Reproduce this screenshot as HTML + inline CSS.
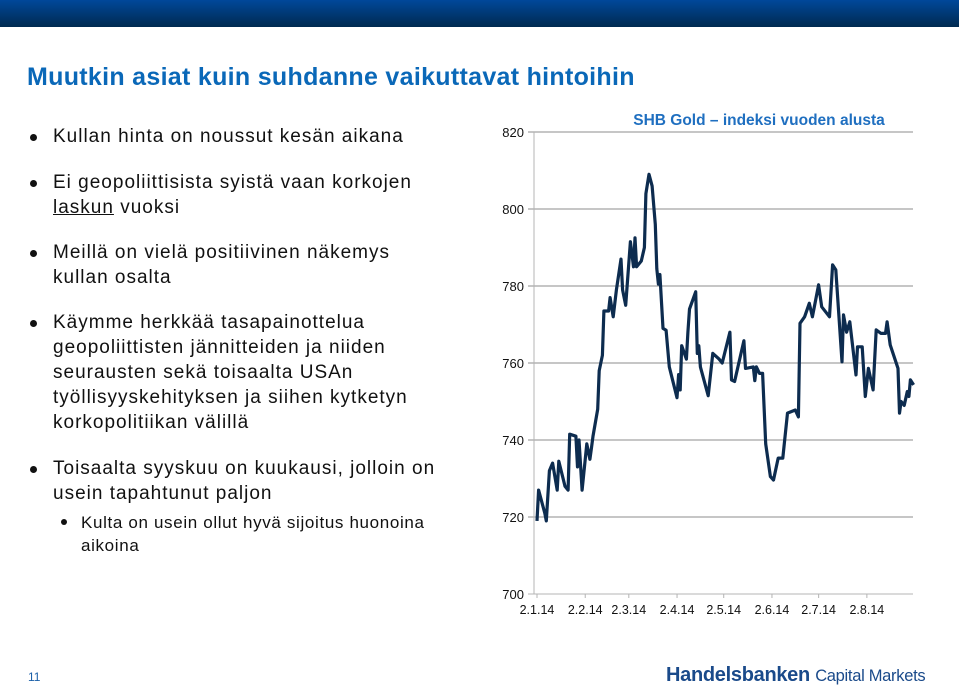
<!DOCTYPE html>
<html><head><meta charset="utf-8"><style>
body{margin:0;width:959px;height:686px;overflow:hidden;background:#fff;font-family:"Liberation Sans",sans-serif;position:relative}
.hdr{position:absolute;left:0;top:0;width:959px;height:27px;background:linear-gradient(#00489a,#002a50)}
.title{position:absolute;left:27px;top:63px;font-size:25px;font-weight:bold;color:#0a68b8;white-space:nowrap;letter-spacing:0.3px}
.b{position:absolute;left:53px;font-size:19px;letter-spacing:1px;color:#111;line-height:25px;white-space:nowrap}
.b::before{content:"";position:absolute;left:-23px;top:10px;width:7px;height:7px;border-radius:50%;background:#111}
.s{font-size:17px;letter-spacing:0.65px;left:81px;line-height:23px}
.s::before{left:-20px;top:8px;width:6px;height:6px}
</style></head><body>
<div class="hdr"></div>
<div class="title">Muutkin asiat kuin suhdanne vaikuttavat hintoihin</div>
<div class="b" style="top:124px">Kullan hinta on noussut kesän aikana</div>
<div class="b" style="top:170px">Ei geopoliittisista syistä vaan korkojen<br><u>laskun</u> vuoksi</div>
<div class="b" style="top:240px">Meillä on vielä positiivinen näkemys<br>kullan osalta</div>
<div class="b" style="top:310px">Käymme herkkää tasapainottelua<br>geopoliittisten jännitteiden ja niiden<br>seurausten sekä toisaalta USAn<br>työllisyyskehityksen ja siihen kytketyn<br>korkopolitiikan välillä</div>
<div class="b" style="top:456px">Toisaalta syyskuu on kuukausi, jolloin on<br>usein tapahtunut paljon</div>
<div class="b s" style="top:511px">Kulta on usein ollut hyvä sijoitus huonoina<br>aikoina</div>
<svg id="chart" width="959" height="686" style="position:absolute;left:0;top:0">
<text x="759" y="125" text-anchor="middle" font-size="15.5" font-weight="bold" fill="#1f6fc0" font-family="Liberation Sans">SHB Gold – indeksi vuoden alusta</text>
<g id="grid"></g><g id="xt"></g><path id="line" fill="none" stroke="#0d2c4f" stroke-width="3.2" stroke-linejoin="round"/>
</svg>
<div style="position:absolute;left:28px;top:670px;font-size:12px;color:#1a5fa8">11</div>
<div style="position:absolute;left:666px;top:664px;font-size:20px;font-weight:bold;color:#1a4a8a;letter-spacing:-0.3px;white-space:nowrap">Handelsbanken <span style="font-weight:normal;font-size:16.5px">Capital Markets</span></div>
<script>
const yTicks=[700,720,740,760,780,800,820];
const xTickDays=[0,31,59,90,120,151,181,212];
const xTickLabels=["2.1.14","2.2.14","2.3.14","2.4.14","2.5.14","2.6.14","2.7.14","2.8.14"];
const days=[0,1,5,6,8,10,13,14,18,20,21,25,26,27,29,32,34,35,36,39,40,42,43,46,47,49,51,54,55,57,60,62,63,64,67,69,70,72,74,76,77,78,79,81,83,85,90,91,92,93,96,97,98,102,103,104,105,110,113,117,119,124,125,127,133,134,139,140,141,143,145,147,150,152,155,158,161,166,168,169,172,175,177,181,183,188,190,192,196,197,199,201,205,206,209,211,213,216,218,221,224,225,227,232,233,234,236,238,239,240,242];
const values=[719,727,721,719,732,734,727,734.5,728,727,741.5,741,733,740,727,739,735,738,741,748,758,762,773.5,773.5,777,772,779,787,779,775,791.5,785,792.5,785,786.5,790,804,809,806,796,784.5,780.5,783,769,768.5,759,751,757,753,764.5,761,768,774,778.5,762.5,764.5,759,751.5,762.5,761,760,768,755.6,755.2,765.8,758.6,759,755.4,759,757.3,757.3,739,730.5,729.6,735.3,735.3,747,747.8,746,770.3,772,775.5,772,780.3,774.6,772,785.5,784.2,760.3,772.5,768,770.7,756.9,764.2,764.2,751.3,758.6,753,768.6,767.7,767.7,770.7,764.7,758.6,747,750,749,752.6,751.3,755.6,754.3];
const X=d=>537+d*1.556, Y=v=>132+(820-v)*3.85;
const ns="http://www.w3.org/2000/svg",g=document.getElementById('grid'),xt=document.getElementById('xt');
yTicks.forEach(t=>{
 const l=document.createElementNS(ns,'line');
 
 
 l.setAttribute('x1',528);l.setAttribute('x2',913);l.setAttribute('y1',Y(t));l.setAttribute('y2',Y(t));
 l.setAttribute('stroke','#b4b4b4');l.setAttribute('stroke-width',t==700?1:1.5);g.appendChild(l);
 const tx=document.createElementNS(ns,'text');
 
 
 tx.setAttribute('x',524);tx.setAttribute('y',Y(t)+5);tx.setAttribute('text-anchor','end');tx.setAttribute('font-size','13');tx.setAttribute('fill','#111');tx.setAttribute('font-family','Liberation Sans');
 tx.textContent=t;g.appendChild(tx);});
const ax=document.createElementNS(ns,'line');


ax.setAttribute('x1',534);ax.setAttribute('x2',534);ax.setAttribute('y1',Y(820));ax.setAttribute('y2',Y(700));ax.setAttribute('stroke','#b4b4b4');g.appendChild(ax);
xTickDays.forEach((d,i)=>{
 const l=document.createElementNS(ns,'line');
 
 
 l.setAttribute('x1',X(d));l.setAttribute('x2',X(d));l.setAttribute('y1',Y(700));l.setAttribute('y2',Y(700)+4);l.setAttribute('stroke','#b4b4b4');xt.appendChild(l);
 const tx=document.createElementNS(ns,'text');
 
 
 tx.setAttribute('x',X(d));tx.setAttribute('y',614);tx.setAttribute('text-anchor','middle');tx.setAttribute('font-size','12.5');tx.setAttribute('fill','#111');tx.setAttribute('font-family','Liberation Sans');
 tx.textContent=xTickLabels[i];xt.appendChild(tx);});
document.getElementById('line').setAttribute('d',days.map((d,i)=>(i?'L':'M')+X(d).toFixed(1)+','+Y(values[i]).toFixed(1)).join(''));
</script>
</body></html>
